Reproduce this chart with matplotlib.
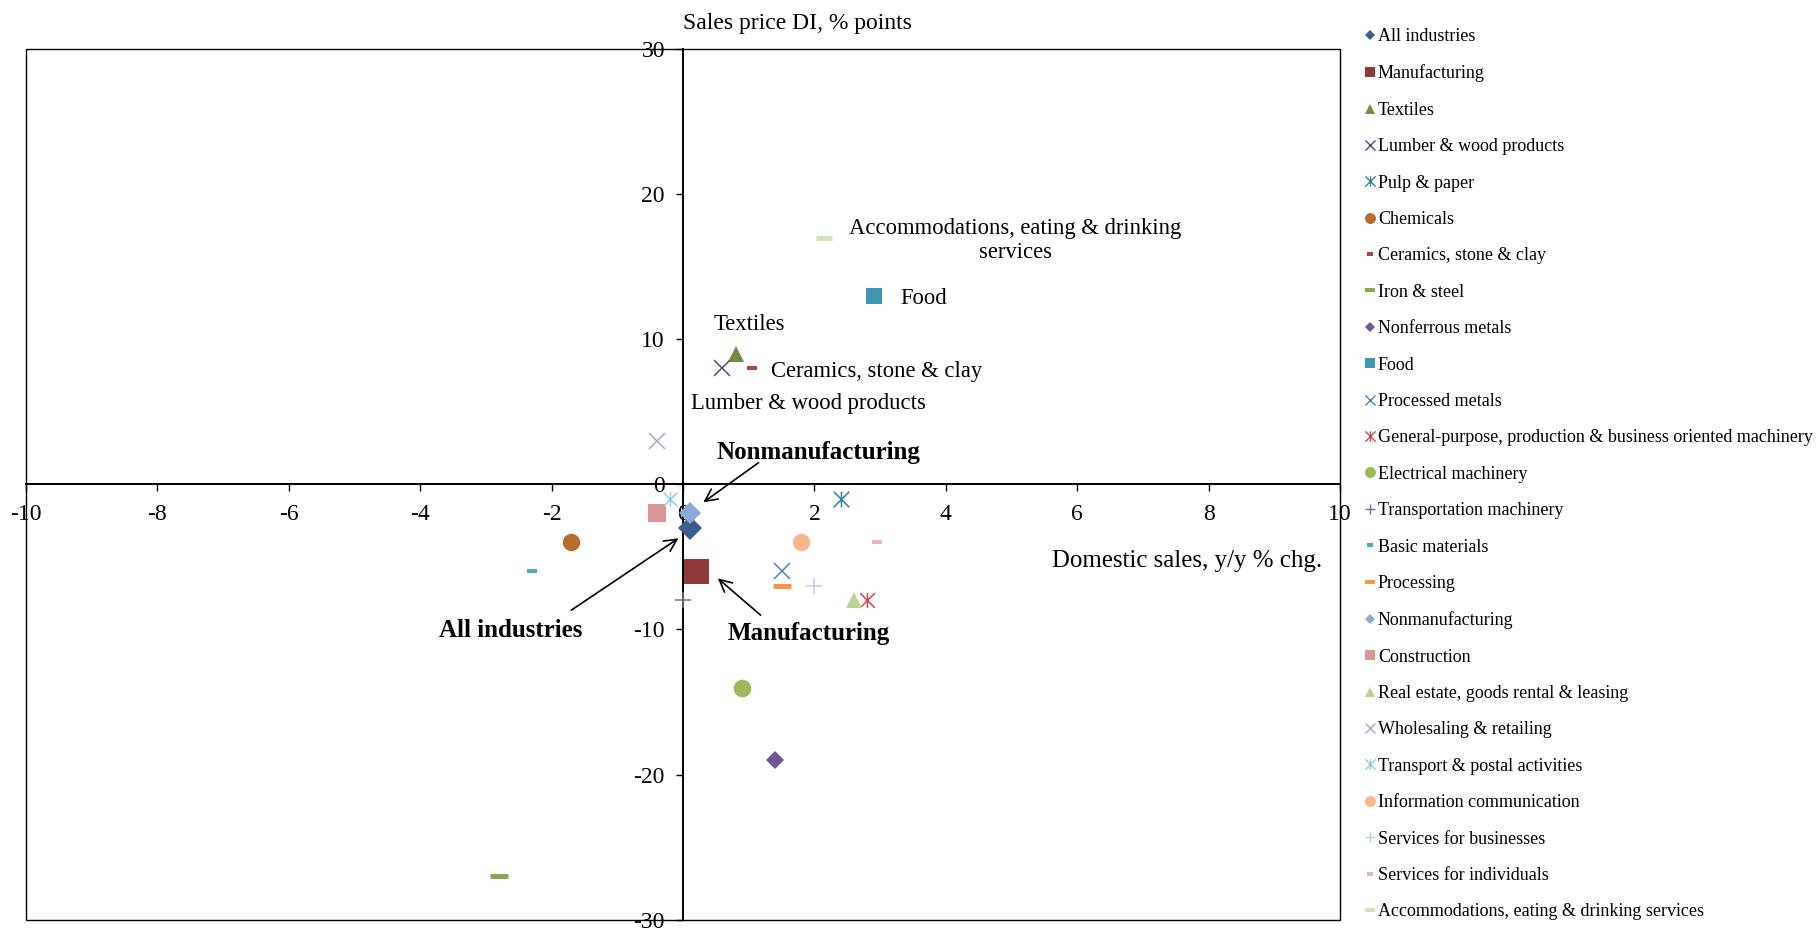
import matplotlib
matplotlib.use("Agg")
import matplotlib.pyplot as plt
from matplotlib.lines import Line2D
from matplotlib.patches import Rectangle
from matplotlib.path import Path

plt.rcParams["font.family"] = ["Liberation Serif", "DejaVu Serif"]
plt.rcParams["axes.unicode_minus"] = False

# ---- data ----
industries = [
    "All industries", "Manufacturing", "Textiles", "Lumber & wood products",
    "Pulp & paper", "Chemicals", "Ceramics, stone & clay", "Iron & steel",
    "Nonferrous metals", "Food", "Processed metals",
    "General-purpose, production & business oriented machinery",
    "Electrical machinery", "Transportation machinery", "Basic materials",
    "Processing", "Nonmanufacturing", "Construction",
    "Real estate, goods rental & leasing", "Wholesaling & retailing",
    "Transport & postal activities", "Information communication",
    "Services for businesses", "Services for individuals",
    "Accommodations, eating & drinking services",
]
domestic_sales = [0.1, 0.2, 0.8, 0.6, 2.4, -1.7, 1.05, -2.8, 1.4, 2.9, 1.5,
                  2.8, 0.9, 0.0, -2.3, 1.5, 0.1, -0.4, 2.6, -0.4, -0.2, 1.8,
                  2.0, 2.95, 2.15]
sales_price_di = [-3, -6, 9, 8, -1, -4, 8, -27, -19, 13, -6, -8, -14, -8, -6,
                  -7, -2, -2, -8, 3, -1, -4, -7, -4, 17]

# ---- styles ----
ASTER = Path([(-1, -1), (1, 1), (-1, 1), (1, -1), (0, -1), (0, 1)],
             [Path.MOVETO, Path.LINETO, Path.MOVETO, Path.LINETO,
              Path.MOVETO, Path.LINETO])

colors = ["#3A5F8F", "#8E3A38", "#718A3F", "#5C4776", "#2E8598", "#B96A2E",
          "#B04542", "#86A84F", "#6F5595", "#3F97B4", "#4A7EC0", "#D04848",
          "#9BBB59", "#8064A2", "#4BACC6", "#F79646", "#8EA9D6", "#D99694",
          "#BCD295", "#B3A2C7", "#93CDDD", "#FAB78A", "#B9CDE5", "#E6B9B8",
          "#D3E2BA"]
markers = ["D", "s", "^", "x", ASTER, "o", "_", "_", "D", "s", "x", ASTER,
           "o", "+", "_", "_", "D", "s", "^", "x", ASTER, "o", "+", "_", "_"]
sizes = [12.2, 18, 12, 12, 11.3, 12.5, 7, 12.7, 8.7, 12, 11.5, 10.6, 12.7,
         11.3, 7, 12.5, 11.5, 12.3, 12, 12, 10, 12.5, 11.3, 7, 12]
leg_sizes = [5.6, 7.9, 7.9, 7.4, 7.4, 7.9, 4.2, 7.9, 5.6, 7.9, 7.4, 7.4, 7.9,
             7.4, 4.2, 7.9, 5.6, 7.9, 7.9, 7.4, 7.4, 7.9, 7.4, 4.2, 7.9]

fig = plt.figure(figsize=(18.2, 9.3), dpi=100)
ax = fig.add_axes([26 / 1820, 10.2 / 930, 1314 / 1820, 871 / 930])
ax.set_xlim(-10, 10)
ax.set_ylim(-30, 30)

handles = []
for name, x, y, c, m, s, ls in zip(industries, domestic_sales, sales_price_di,
                                   colors, markers, sizes, leg_sizes):
    line_marker = m in ("x", "+", "_") or m is ASTER
    mew = 1.1
    if m == "_":
        mew = 3.6 if s > 10 else 2.9
    ax.plot([x], [y], ls="none", marker=m, ms=s, color=c, mec=c,
            mew=mew if line_marker else 0, zorder=3, clip_on=False)
    handles.append(Line2D([], [], ls="none", marker=m, ms=ls, color=c, mec=c,
                          mew=(2.9 if m == "_" else 1.0) if line_marker else 0,
                          label=name))

# axes through zero + outer frame
for side in ("top", "right"):
    ax.spines[side].set_visible(False)
for side in ("left", "bottom"):
    ax.spines[side].set_position("zero")
    ax.spines[side].set_linewidth(1.4)
ax.add_patch(Rectangle((0, 0), 1, 1, transform=ax.transAxes, fill=False,
                       lw=1.0, ec="black", clip_on=False, zorder=2))
ax.set_xticks(range(-10, 11, 2))
ax.set_yticks(range(-30, 31, 10))
ax.tick_params(axis="both", direction="out", length=5, width=1,
               labelsize=17)
ax.tick_params(axis="x", pad=9.5)
ax.tick_params(axis="y", pad=8)

# axis titles
ax.text(0, 31.75, "Sales price DI, % points", fontsize=17, ha="left",
        va="center", clip_on=False)
ax.text(9.73, -5.25, "Domestic sales, y/y % chg.", fontsize=17.9, ha="right",
        va="center")

# point labels
ax.text(5.06, 16.8, "Accommodations, eating & drinking\nservices",
        fontsize=16.3, ha="center", va="center", linespacing=1.2)
ax.text(3.31, 12.82, "Food", fontsize=16.3, ha="left", va="center")
ax.text(0.46, 10.99, "Textiles", fontsize=16.3, ha="left", va="center")
ax.text(1.34, 7.75, "Ceramics, stone & clay", fontsize=16.3, ha="left",
        va="center")
ax.text(0.12, 5.57, "Lumber & wood products", fontsize=16.3, ha="left",
        va="center")

bold = dict(fontsize=18, fontweight="bold", ha="center", va="center")
arrow = dict(arrowstyle="->", lw=1.2, color="black", mutation_scale=22,
             shrinkA=0, shrinkB=0)
ax.text(2.06, 2.22, "Nonmanufacturing", **bold)
ax.annotate("", xy=(0.31, -1.24), xytext=(1.15, 1.49), arrowprops=arrow)
ax.text(-2.62, -10.05, "All industries", **bold)
ax.annotate("", xy=(-0.07, -3.72), xytext=(-1.70, -8.67), arrowprops=arrow)
ax.text(1.91, -10.3, "Manufacturing", **bold)
ax.annotate("", xy=(0.53, -6.48), xytext=(1.18, -9.01), arrowprops=arrow)

fig.legend(handles=handles, loc="upper left",
           bbox_to_anchor=(1364.8 / 1820, 1 - 28.2 / 930), frameon=False,
           fontsize=13, handlelength=0.58, handletextpad=0.15,
           labelspacing=1.074, borderpad=0, borderaxespad=0, numpoints=1)

fig.savefig("out.png", dpi=100)
